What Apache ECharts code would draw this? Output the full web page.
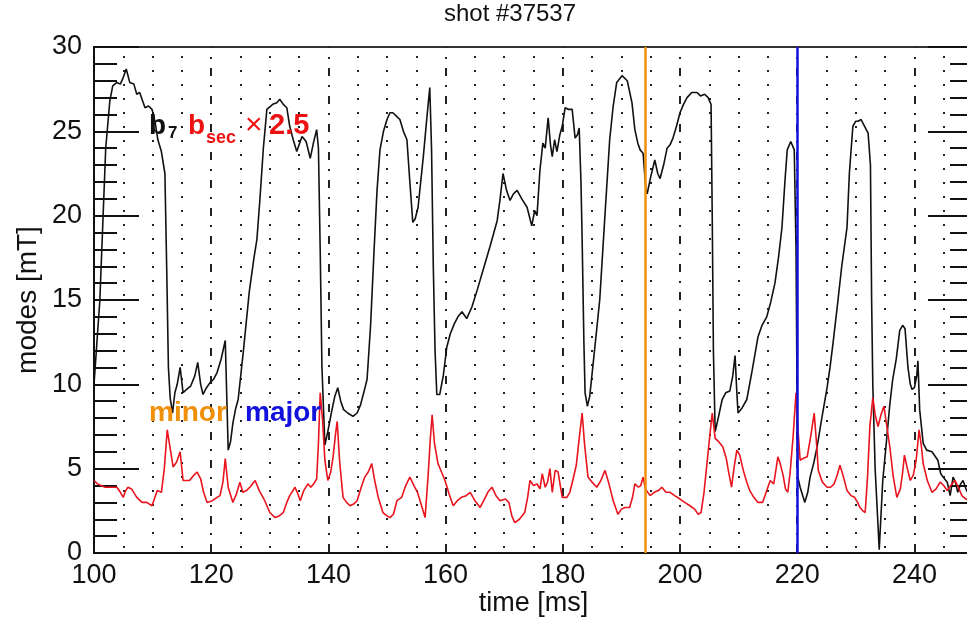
<!DOCTYPE html>
<html>
<head>
<meta charset="utf-8">
<script src="https://cdn.jsdelivr.net/npm/echarts@6/dist/echarts.min.js"></script>
<style>html,body{margin:0;padding:0;background:#fff}#c{width:967px;height:617px}</style>
</head>
<body>
<div id="c"></div>
<script>
// ---- data ----
const titleText = 'shot #37537';
const xTicks = [100, 120, 140, 160, 180, 200, 220, 240];
const yTicks = [0, 5, 10, 15, 20, 25, 30];
const markTimes = [194, 220]; // minor, major

const b7T = [100.0,100.5,101.0,101.5,102.0,102.7,103.2,103.9,104.5,105.0,105.5,106.1,106.8,107.3,107.8,108.3,108.7,109.3,109.9,110.4,110.9,111.5,112.1,112.4,112.7,113.0,113.4,113.8,114.2,114.7,115.2,115.8,116.5,117.2,117.7,118.2,118.6,119.2,119.8,120.4,121.0,121.7,122.4,122.6,122.9,123.3,123.7,124.2,124.6,125.5,126.5,127.3,127.8,128.3,128.9,129.5,130.5,131.2,131.7,132.3,132.9,133.4,134.0,134.6,135.0,135.5,136.2,136.9,137.5,138.0,138.3,138.6,138.9,139.4,139.9,140.5,141.1,141.6,142.1,142.6,143.3,144.2,144.9,145.5,146.1,146.6,147.2,147.8,148.3,148.8,149.4,150.0,150.5,151.0,151.6,152.2,152.8,153.4,153.9,154.4,154.8,155.3,156.2,156.8,157.3,157.6,157.9,158.2,158.5,159.0,159.6,160.2,160.8,161.5,162.1,162.8,163.6,164.5,165.4,166.5,167.6,168.8,169.3,169.8,170.4,171.0,171.6,172.2,173.0,173.9,174.7,175.2,175.6,176.1,176.6,177.0,177.5,177.9,178.2,178.6,179.0,179.5,179.9,180.4,181.0,181.6,182.1,182.5,182.8,183.1,183.3,183.6,183.8,184.2,184.6,185.5,186.3,187.1,188.0,188.6,189.2,190.1,191.0,191.8,192.3,192.8,193.2,193.7,194.0,194.2,194.4,195.0,195.7,196.2,196.6,197.2,197.8,198.3,198.8,199.4,200.0,200.6,201.2,202.0,202.9,203.5,204.2,204.8,205.3,205.5,205.7,206.0,206.4,207.2,207.8,208.5,209.0,209.4,209.7,209.9,210.6,211.4,212.3,213.3,214.0,214.8,215.5,216.2,216.8,217.4,217.9,218.3,218.9,219.5,219.8,220.0,220.1,220.5,221.3,221.8,222.2,222.8,223.4,224.2,225.1,225.6,226.1,226.9,227.6,228.5,228.9,229.5,230.0,230.4,230.9,231.5,232.1,232.5,232.7,232.9,233.3,234.0,234.6,235.2,235.8,236.3,236.9,237.5,238.0,238.4,238.9,239.3,239.6,240.0,240.4,240.6,240.9,241.5,242.1,243.0,244.0,244.5,244.9,245.6,246.1,246.6,247.0,247.4,247.9,248.3,248.9,249.5,250.0];
const b7V = [10.0,12.5,15.0,19.5,24.0,26.8,27.7,27.9,27.8,28.2,28.7,27.9,27.8,27.2,27.3,26.8,26.4,26.5,26.3,25.6,24.5,23.8,22.5,17.0,11.0,9.2,8.3,9.5,10.0,11.0,9.5,9.7,9.9,10.5,11.3,10.0,9.4,9.8,10.1,10.3,10.7,11.5,12.6,10.0,6.1,6.6,7.7,8.6,9.1,12.0,15.5,17.5,18.6,20.9,24.0,26.3,26.6,26.7,26.9,26.6,26.4,25.3,24.5,23.8,24.2,24.7,24.4,23.4,24.4,25.1,24.0,18.0,11.0,6.4,7.2,8.3,9.3,9.8,9.0,8.5,8.3,8.1,8.3,8.8,9.6,10.3,13.5,18.0,21.5,23.9,25.0,25.7,26.1,26.1,25.9,25.7,25.0,24.5,22.0,19.6,19.8,20.5,23.5,25.8,27.6,24.0,17.0,12.0,9.4,9.4,10.5,12.2,13.0,13.6,14.0,14.3,13.9,14.6,15.6,16.9,18.2,19.7,21.0,22.5,21.5,20.9,21.3,21.5,21.0,20.5,19.4,20.3,20.0,22.7,24.3,24.0,25.8,24.2,23.5,24.5,23.8,24.8,25.3,26.4,26.3,26.3,24.6,24.8,25.2,22.0,18.6,12.5,9.5,8.7,9.3,12.3,15.0,19.5,24.5,26.5,27.9,28.3,28.0,26.7,25.1,24.3,23.9,23.7,23.8,21.5,21.3,22.3,23.3,22.5,22.2,23.0,24.0,24.2,24.6,25.3,26.1,26.6,27.0,27.3,27.3,27.1,27.2,27.0,26.6,20.0,12.0,7.2,7.8,9.1,9.5,9.6,10.5,11.7,9.5,8.3,8.6,9.1,10.8,12.8,13.5,14.0,14.9,16.0,17.5,19.3,22.0,23.9,24.4,23.9,18.0,8.0,4.5,3.9,3.0,3.6,4.5,5.3,6.3,8.0,9.8,11.0,12.4,14.8,17.0,19.3,22.5,25.3,25.6,25.6,25.7,25.3,24.9,23.0,15.0,10.0,5.0,0.2,4.3,6.5,8.8,10.3,11.5,13.2,13.5,13.3,11.0,10.0,9.7,9.8,10.5,11.4,8.5,6.5,6.1,6.0,5.5,4.7,4.5,4.2,3.4,4.5,4.2,3.6,4.1,4.3,3.7,3.5,3.6];

const bsecT = [100.0,100.6,101.2,101.9,102.8,103.9,104.5,105.0,105.4,105.8,106.4,107.3,108.2,109.0,109.9,110.3,110.8,111.5,112.0,112.5,113.0,113.5,114.1,114.7,115.2,116.3,117.0,117.6,118.2,118.7,119.3,120.2,121.0,121.5,122.0,122.4,122.9,123.7,124.3,124.9,125.4,126.0,126.6,127.5,128.2,129.0,130.0,130.9,131.6,132.3,132.9,133.4,134.3,134.8,135.2,135.8,136.5,137.0,137.5,138.0,138.3,138.6,139.0,139.4,139.9,140.4,140.8,141.2,141.5,141.9,142.5,143.1,143.7,144.3,144.9,145.6,146.2,146.8,147.4,147.9,148.5,149.3,150.0,150.5,151.1,151.7,152.5,153.2,153.9,154.6,155.2,155.9,156.5,157.0,157.4,157.7,158.1,158.7,159.3,159.9,160.6,161.3,162.0,162.7,163.5,164.2,165.0,165.9,166.5,167.2,167.9,168.6,169.3,170.2,170.8,171.3,171.8,172.6,173.5,174.0,174.4,175.0,175.6,176.1,176.5,177.0,177.4,177.8,178.2,178.7,179.2,179.9,180.7,181.2,181.7,182.3,182.8,183.3,183.7,184.3,185.0,185.8,186.5,187.2,187.8,188.6,189.4,190.0,190.6,191.4,191.9,192.3,192.9,193.3,193.7,194.1,194.9,195.6,196.3,196.9,197.6,198.3,199.1,200.0,200.8,201.7,202.5,203.1,203.6,204.1,204.6,205.1,205.5,205.8,206.0,206.6,207.3,207.9,208.3,208.8,209.2,209.7,210.2,210.8,211.4,211.9,212.6,213.3,214.1,214.7,215.4,216.0,216.4,216.7,217.1,217.6,218.0,218.4,218.8,219.3,219.8,220.1,220.5,221.0,221.7,222.3,222.9,223.3,223.6,224.3,225.1,225.7,226.3,226.8,227.3,227.9,228.5,229.2,229.8,230.3,230.7,231.2,231.6,232.0,232.4,232.9,233.3,233.8,234.3,234.8,235.3,235.8,236.4,237.0,237.6,238.0,238.3,238.8,239.3,239.8,240.3,240.8,241.2,241.5,242.2,243.0,243.7,244.4,245.0,245.6,246.2,246.9,247.5,248.1,248.8,249.5,250.0];
const bsecV = [4.3,4.1,4.0,3.9,3.9,3.9,3.6,3.3,3.7,3.9,3.8,3.3,3.0,3.0,2.8,3.2,3.7,3.6,5.0,7.3,6.2,5.1,5.4,6.0,4.3,4.3,4.6,4.8,4.4,3.6,3.0,3.1,3.3,3.4,4.2,5.6,3.9,3.0,3.5,4.2,3.6,3.7,3.9,4.3,3.7,3.2,2.4,2.1,2.2,2.4,3.0,3.4,3.9,3.5,3.1,3.7,4.1,3.9,4.1,4.4,6.5,9.5,7.9,5.5,4.3,4.8,5.7,7.0,7.8,5.5,3.3,3.0,2.8,2.9,3.1,3.9,4.5,4.8,5.3,4.3,3.3,2.4,2.2,2.1,2.3,3.1,3.3,4.0,4.5,4.0,3.6,2.8,2.1,4.5,6.8,8.2,6.5,5.3,4.8,4.3,3.5,2.8,3.1,3.3,3.4,3.6,3.1,2.7,3.1,3.6,3.9,3.4,3.1,3.2,3.0,2.2,1.8,2.0,2.4,3.3,4.3,4.0,4.1,3.8,4.7,3.9,4.2,5.0,3.6,4.9,4.8,3.3,3.3,3.6,4.3,5.2,6.8,8.3,6.5,4.5,4.2,3.9,4.3,4.9,4.2,3.1,2.3,2.6,2.7,2.7,3.3,4.1,3.9,4.0,4.5,3.8,3.4,3.6,3.7,3.9,3.6,3.6,3.4,3.2,3.0,2.8,2.6,2.3,2.4,3.6,5.3,7.0,8.3,7.4,6.8,6.6,6.3,5.6,4.8,3.9,5.0,6.1,5.8,4.9,4.2,3.7,3.3,3.0,3.0,3.6,4.3,4.1,5.0,5.7,5.3,4.6,3.8,3.6,4.8,6.9,9.5,7.5,5.5,5.6,5.7,6.9,8.3,6.5,4.9,4.2,3.9,3.9,4.1,4.6,5.2,4.5,3.7,3.4,3.3,3.0,2.7,2.5,2.4,4.5,7.5,9.2,8.2,7.5,8.2,8.7,7.5,6.3,4.5,3.3,3.8,4.8,5.8,5.0,4.3,4.6,5.5,7.3,6.3,5.3,4.3,3.6,3.8,4.2,4.0,3.7,4.0,4.3,3.9,3.4,3.2,3.1,3.0];

const b7Data = b7T.map((t, i) => [t, b7V[i]]);
const bsecData = bsecT.map((t, i) => [t, bsecV[i]]);

const FONT = '"Liberation Sans", Arial, Helvetica, sans-serif';
const chart = echarts.init(document.getElementById('c'), null, {renderer: 'canvas'});

const yAxisCommon = {
  type: 'value', min: 0, max: 30, interval: 5,
  axisLine: {show: true, lineStyle: {color: '#111', width: 2}},
  axisTick: {show: true, inside: true, length: 45, lineStyle: {color: '#111', width: 2}},
  minorTick: {show: true, splitNumber: 5, length: 23, lineStyle: {color: '#111', width: 2}},
  splitLine: {show: false}
};

chart.setOption({
  animation: false,
  backgroundColor: '#fff',
  grid: {left: 94, top: 47, width: 879, height: 506, show: true, borderColor: '#333', borderWidth: 2,
         containLabel: false, outerBoundsMode: 'none'},
  xAxis: {
    type: 'value', min: 100, max: 250, interval: 20,
    name: 'time [ms]', nameLocation: 'middle', nameGap: 37, nameMoveOverlap: false,
    nameTextStyle: {fontFamily: FONT, fontSize: 27, color: '#111'},
    axisLine: {show: true, lineStyle: {color: '#111', width: 2}},
    axisTick: {show: false},
    axisLabel: {
      fontFamily: FONT, fontSize: 27, color: '#111', margin: 9,
      showMaxLabel: false,
      formatter: v => (xTicks.indexOf(v) >= 0 ? String(v) : '')
    },
    splitLine: {show: true, lineStyle: {color: '#222', width: 2, type: [8, 9, 2, 9], dashOffset: 7}},
    minorTick: {show: false, splitNumber: 4},
    minorSplitLine: {show: true, lineStyle: {color: '#222', width: 2, type: [2, 12], dashOffset: 5}}
  },
  yAxis: [
    Object.assign({}, yAxisCommon, {
      position: 'left',
      name: 'modes [mT]', nameLocation: 'middle', nameGap: 52, nameRotate: 90, nameMoveOverlap: false,
      nameTextStyle: {fontFamily: FONT, fontSize: 28, color: '#111'},
      axisLabel: {fontFamily: FONT, fontSize: 27, color: '#111', margin: 12,
        formatter: v => (yTicks.indexOf(v) >= 0 ? String(v) : '')}
    }),
    Object.assign({}, yAxisCommon, {position: 'right', axisLabel: {show: false}})
  ],
  series: [
    {
      name: 'b7', type: 'line', data: b7Data, showSymbol: false, z: 3,
      lineStyle: {color: '#111', width: 1.6}, itemStyle: {color: '#111'}
    },
    {
      name: 'bsec x2.5', type: 'line', data: bsecData, showSymbol: false, z: 4,
      lineStyle: {color: '#e8141e', width: 1.6}, itemStyle: {color: '#e8141e'}
    },
    {
      name: 'marks', type: 'line', data: [], z: 3,
      markLine: {
        silent: true, symbol: 'none', label: {show: false}, animation: false,
        data: [
          {xAxis: markTimes[0], lineStyle: {color: '#f0900a', width: 2.5, type: 'solid'}},
          {xAxis: markTimes[1], lineStyle: {color: '#1212dc', width: 2.5, type: 'solid'}}
        ]
      }
    }
  ],
  graphic: [
    {type: 'text', x: 510, y: 14, style: {text: titleText, fontFamily: FONT, fontSize: 24, fill: '#111', align: 'center', verticalAlign: 'middle'}},
    {type: 'text', x: 149, y: 126, z: 10, style: {text: 'b', fontFamily: FONT, fontSize: 28, fontWeight: 'bold', fill: '#111', verticalAlign: 'middle'}},
    {type: 'text', x: 168, y: 133, z: 10, style: {text: '7', fontFamily: FONT, fontSize: 17, fontWeight: 'bold', fill: '#111', verticalAlign: 'middle'}},
    {type: 'text', x: 188, y: 126, z: 10, style: {text: 'b', fontFamily: FONT, fontSize: 28, fontWeight: 'bold', fill: '#ee1111', verticalAlign: 'middle'}},
    {type: 'text', x: 206, y: 138, z: 10, style: {text: 'sec', fontFamily: FONT, fontSize: 18, fontWeight: 'bold', fill: '#ee1111', verticalAlign: 'middle'}},
    {type: 'text', x: 245, y: 126, z: 10, style: {text: '×', fontFamily: FONT, fontSize: 30, fill: '#ee1111', verticalAlign: 'middle'}},
    {type: 'text', x: 269, y: 126, z: 10, style: {text: '2.5', fontFamily: FONT, fontSize: 29, fontWeight: 'bold', fill: '#ee1111', verticalAlign: 'middle'}},
    {type: 'text', x: 149, y: 413, z: 10, style: {text: 'minor', fontFamily: FONT, fontSize: 28, fontWeight: 'bold', fill: '#f0900a', verticalAlign: 'middle'}},
    {type: 'text', x: 245, y: 413, z: 10, style: {text: 'major', fontFamily: FONT, fontSize: 28, fontWeight: 'bold', fill: '#1212dc', verticalAlign: 'middle'}}
  ]
});
</script>
</body>
</html>
